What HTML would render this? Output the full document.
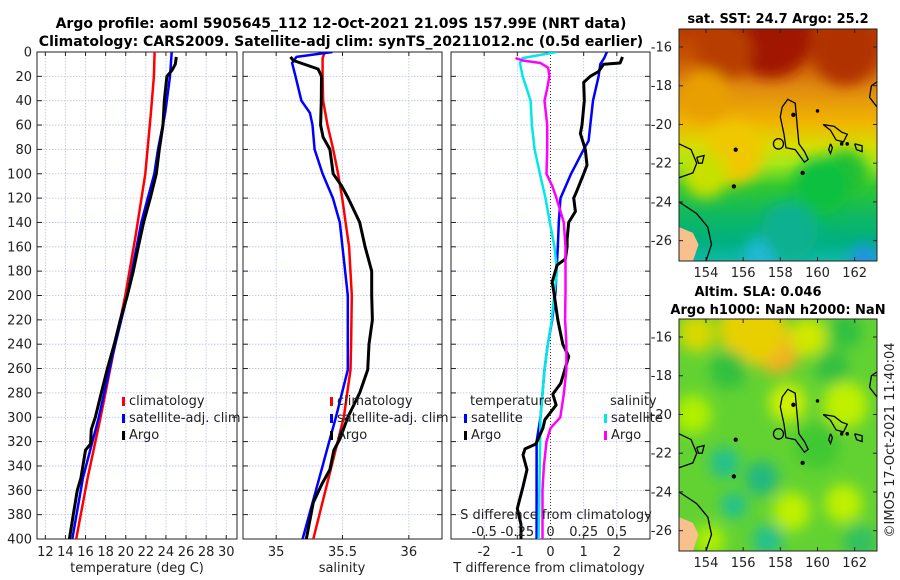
<!DOCTYPE html>
<html><head><meta charset="utf-8"><style>
html,body{margin:0;padding:0;background:#fff;}
svg{display:block;font-family:"DejaVu Sans","Liberation Sans",sans-serif;}
</style></head><body>
<svg id="fig" width="900" height="580" viewBox="0 0 900 580" xmlns="http://www.w3.org/2000/svg">
<defs>
<clipPath id="cp1"><rect x="37" y="52" width="200" height="487"/></clipPath>
<clipPath id="cp2"><rect x="243" y="52" width="199" height="487"/></clipPath>
<clipPath id="cp3"><rect x="451" y="52" width="199" height="487"/></clipPath>
<clipPath id="cmTop"><rect x="679" y="29" width="198" height="232"/></clipPath>
<clipPath id="cmBot"><rect x="679" y="319" width="198" height="232"/></clipPath>
<filter id="blur" x="-50%" y="-50%" width="200%" height="200%"><feGaussianBlur stdDeviation="7"/></filter>
<linearGradient id="sstGrad" x1="0" y1="0" x2="0" y2="1">
<stop offset="0" stop-color="#b83a00"/><stop offset="0.12" stop-color="#c85400"/>
<stop offset="0.25" stop-color="#e08a10"/><stop offset="0.40" stop-color="#f0b400"/>
<stop offset="0.50" stop-color="#d8dc00"/><stop offset="0.58" stop-color="#a8e818"/>
<stop offset="0.68" stop-color="#30c830"/><stop offset="0.80" stop-color="#10b860"/>
<stop offset="0.92" stop-color="#00b080"/><stop offset="1" stop-color="#10b8a8"/>
</linearGradient>
</defs>
<g font-weight="bold" font-size="14" text-anchor="middle" fill="#000">
<text x="341" y="28">Argo profile: aoml 5905645_112 12-Oct-2021 21.09S 157.99E (NRT data)</text>
<text x="341" y="46">Climatology: CARS2009. Satellite-adj clim: synTS_20211012.nc (0.5d earlier)</text>
</g>
<g id="charts"></g>
<g id="maps"></g>
<text transform="translate(894,440) rotate(-90)" text-anchor="middle" font-size="13" fill="#222">©IMOS 17-Oct-2021 11:40:04</text>
</svg>
<script>
// ---------- data ----------
const depthTicks = [0,20,40,60,80,100,120,140,160,180,200,220,240,260,280,300,320,340,360,380,400];
const tempTicks = [12,14,16,18,20,22,24,26,28,30];
const salTicks = [35,35.5,36];
const salTickLabels = ["35","35.5","36"];
const tdTicks = [-2,-1,0,1,2];
const sdTicks = [-0.5,-0.25,0,0.25,0.5];
const sdTickLabels = ["-0.5","-0.25","0","0.25","0.5"];

const tempClimD = [0,20,50,100,150,200,250,300,350,400];
const tempClim = [22.87,22.8,22.5,21.95,21.0,19.96,18.7,17.5,16.2,15.07];
const tempSatD = [0,20,50,80,100,140,200,250,300,350,400];
const tempSat = [24.57,24.4,23.93,23.21,22.84,21.55,20.15,18.66,17.32,15.74,14.68];
const tempArgoD = [4,10,15,20,40,60,80,100,120,140,160,180,200,220,240,260,280,300,310,322,327,350,360,380,400];
const tempArgo = [25.03,24.93,24.6,24.1,23.84,23.71,23.34,23.04,22.44,21.78,21.25,20.75,20.15,19.46,18.86,18.17,17.57,16.97,16.57,16.5,16.0,15.54,15.18,14.78,14.39];

const salClimD = [0,5,20,40,60,80,100,120,140,160,200,240,261,300,320,340,360,400];
const salClim = [35.367,35.35,35.35,35.354,35.387,35.43,35.467,35.498,35.523,35.55,35.57,35.565,35.56,35.51,35.464,35.418,35.372,35.28];
const salSatD = [0,4,9,20,40,50,60,80,100,120,140,200,261,300,320,340,400];
const salSat = [35.425,35.153,35.12,35.146,35.19,35.254,35.274,35.29,35.35,35.428,35.48,35.54,35.54,35.45,35.40,35.35,35.199];
const salArgoD = [4,7,14,20,40,60,70,80,100,110,120,140,160,180,200,220,240,261,280,300,318,327,343,355,370,400];
const salArgo = [35.108,35.13,35.316,35.342,35.34,35.335,35.354,35.405,35.43,35.493,35.543,35.63,35.67,35.72,35.72,35.725,35.70,35.69,35.63,35.54,35.48,35.435,35.405,35.344,35.28,35.227];

const tdArgoD = [4,9,10,16,20,25,40,60,67,80,93,100,115,120,131,140,154,160,170,175,189,197,220,240,250,261,272,281,290,302,309,322,326,331,343,357,375,388,400];
const tdArgo = [2.17,2.1,1.6,1.45,1.2,1.0,1.02,0.95,0.9,1.05,1.1,1.0,0.78,0.7,0.75,0.55,0.5,0.5,0.45,0.2,0.05,0.1,0.22,0.37,0.55,0.43,0.31,0.07,0.17,-0.17,-0.23,-0.44,-0.77,-0.83,-0.71,-0.83,-1.0,-0.89,-0.89];
const tdSatD = [0,5,10,20,40,60,73,80,100,120,140,160,197,220,240,261,300,320,400];
const tdSat = [1.7,1.62,1.5,1.45,1.28,1.2,1.15,1.0,0.62,0.3,0.25,0.22,0.15,0.05,-0.08,-0.18,-0.3,-0.42,-0.42];
const sdSatD = [0,5,9,20,33,40,60,80,100,120,140,160,180,197,220,240,261,300,400];
const sdSat = [0.045,-0.21,-0.23,-0.21,-0.17,-0.15,-0.14,-0.12,-0.08,-0.038,-0.005,0.03,0.05,0.03,0.01,-0.02,-0.045,-0.075,-0.09];
const sdArgoD = [5,7,9,13,20,30,40,60,80,100,110,120,140,160,180,197,220,240,261,281,300,309,320,340,360,400];
const sdArgo = [-0.264,-0.21,-0.075,-0.017,-0.008,-0.025,-0.045,-0.025,-0.025,-0.03,0.013,0.045,0.1,0.113,0.113,0.113,0.11,0.12,0.12,0.10,0.074,0.0,-0.03,-0.05,-0.06,-0.06];

const lonTicks = [154,156,158,160,162];
const latTicks = [-16,-18,-20,-22,-24,-26];

// ---------- scales ----------
const Y0 = 52, Y1 = 539;
const yD = d => Y0 + d * (Y1 - Y0) / 400;
const P1 = {x0:37, x1:237, min:11.17, max:31.07};
const P2 = {x0:243, x1:442, min:34.75, max:36.25};
const P3 = {x0:451, x1:650, min:-3, max:3};
const lin = (p) => v => p.x0 + (v - p.min) * (p.x1 - p.x0) / (p.max - p.min);
const xT = lin(P1), xS = lin(P2), xTd = lin(P3);
const xSd = v => xTd(v * 4);

const NS = "http://www.w3.org/2000/svg";
function mk(tag, attrs, parent) {
  const e = document.createElementNS(NS, tag);
  for (const k in attrs) e.setAttribute(k, attrs[k]);
  parent.appendChild(e);
  return e;
}
const charts = document.getElementById('charts');

function panel(p, clipId, name, vticks) {
  const g = mk('g', {}, charts);
  
  
  const grid = mk('g', {stroke:'#b8c0e4', 'stroke-width':0.8, 'stroke-dasharray':'1.5,1.5'}, g);
  
  
  depthTicks.forEach(d => mk('line', {x1:p.x0, x2:p.x1, y1:yD(d), y2:yD(d)}, grid));
  vticks.forEach(x => mk('line', {x1:x, x2:x, y1:Y0, y2:Y1}, grid));
  const axes = mk('g', {stroke:'#222', 'stroke-width':1}, g);
  
  
  mk('rect', {x:p.x0, y:Y0, width:p.x1 - p.x0, height:Y1 - Y0, fill:'none'}, axes);
  depthTicks.forEach(d => {
    mk('line', {x1:p.x0, x2:p.x0 + 5, y1:yD(d), y2:yD(d)}, axes);
    mk('line', {x1:p.x1 - 5, x2:p.x1, y1:yD(d), y2:yD(d)}, axes);
  });
  vticks.forEach(x => {
    mk('line', {x1:x, x2:x, y1:Y1, y2:Y1 - 4}, axes);
    mk('line', {x1:x, x2:x, y1:Y0, y2:Y0 + 4}, axes);
  });
  const lines = mk('g', {'clip-path':'url(#' + clipId + ')', fill:'none', 'stroke-linejoin':'round'}, g);
  return {g, lines};
}
function series(parent, xs, ds, xf, color, w, name) {
  const pts = ds.map((d, i) => xf(xs[i]).toFixed(1) + ',' + yD(d).toFixed(1)).join(' ');
  const pl = mk('polyline', {points:pts, stroke:color, 'stroke-width':w}, parent);
  
  
}
function txt(parent, x, y, s, attrs, name) {
  const t = mk('text', Object.assign({x, y, 'font-size':12.5, fill:'#222'}, attrs || {}), parent);
  t.textContent = s;
  
  
  return t;
}
function legendEntry(parent, x, y, color, label, name) {
  const g = mk('g', {}, parent);
  
  
  mk('rect', {x:x, y:y - 8, width:3, height:9, fill:color}, g);
  txt(g, x + 7, y, label, {'font-size':13}, name + '-label');
}

// Panel 1: temperature
const p1 = panel(P1, 'cp1', 'temperature-panel', tempTicks.map(xT));
series(p1.lines, tempClim, tempClimD, xT, '#ff0000', 2.5, 'temp-climatology-line');
series(p1.lines, tempSat, tempSatD, xT, '#0000ff', 2.5, 'temp-satellite-line');
series(p1.lines, tempArgo, tempArgoD, xT, '#000', 3, 'temp-argo-line');
depthTicks.forEach(d => txt(charts, 32, yD(d) + 4.5, String(d), {'text-anchor':'end', 'font-size':13}, 'depth-tick-label'));
tempTicks.forEach(t => txt(charts, xT(t), 556, String(t), {'text-anchor':'middle', 'font-size':13}, 'temp-tick-label'));
txt(charts, 137, 572, 'temperature (deg C)', {'text-anchor':'middle', 'font-size':13}, 'temp-axis-title');
legendEntry(p1.g, 122, 405, '#ff0000', 'climatology', 'temp-legend-climatology');
legendEntry(p1.g, 122, 422, '#0000ff', 'satellite-adj. clim', 'temp-legend-satellite');
legendEntry(p1.g, 122, 439, '#000', 'Argo', 'temp-legend-argo');

// Panel 2: salinity
const p2 = panel(P2, 'cp2', 'salinity-panel', salTicks.map(xS));
series(p2.lines, salClim, salClimD, xS, '#ff0000', 2.5, 'sal-climatology-line');
series(p2.lines, salSat, salSatD, xS, '#0000ff', 2.5, 'sal-satellite-line');
series(p2.lines, salArgo, salArgoD, xS, '#000', 3, 'sal-argo-line');
salTicks.forEach((s, i) => txt(charts, xS(s), 556, salTickLabels[i], {'text-anchor':'middle', 'font-size':13}, 'sal-tick-label'));
txt(charts, 342, 572, 'salinity', {'text-anchor':'middle', 'font-size':13}, 'sal-axis-title');
legendEntry(p2.g, 330, 405, '#ff0000', 'climatology', 'sal-legend-climatology');
legendEntry(p2.g, 330, 422, '#0000ff', 'satellite-adj. clim', 'sal-legend-satellite');
legendEntry(p2.g, 330, 439, '#000', 'Argo', 'sal-legend-argo');

// Panel 3: differences
const p3 = panel(P3, 'cp3', 'difference-panel', tdTicks.filter(v => v !== 0).map(xTd));
mk('line', {x1:xTd(0), x2:xTd(0), y1:Y0, y2:Y1, stroke:'#333', 'stroke-width':1, 'stroke-dasharray':'1,2'}, p3.lines);
series(p3.lines, tdSat, tdSatD, xTd, '#0000ff', 2.5, 'tdiff-satellite-line');
series(p3.lines, sdSat, sdSatD, xSd, '#00e8e8', 2.5, 'sdiff-satellite-line');
series(p3.lines, tdArgo, tdArgoD, xTd, '#000', 3, 'tdiff-argo-line');
series(p3.lines, sdArgo, sdArgoD, xSd, '#ff00ff', 2.5, 'sdiff-argo-line');
tdTicks.forEach(v => txt(charts, xTd(v), 556, String(v), {'text-anchor':'middle', 'font-size':13}, 'tdiff-tick-label'));
txt(charts, 549, 572, 'T difference from climatology', {'text-anchor':'middle', 'font-size':13}, 'tdiff-axis-title');
sdTicks.forEach((v, i) => txt(p3.g, xSd(v), 536, sdTickLabels[i], {'text-anchor':'middle', 'font-size':13}, 'sdiff-tick-label'));
txt(p3.g, 556, 519, 'S difference from climatology', {'text-anchor':'middle', 'font-size':13}, 'sdiff-axis-title');
txt(p3.g, 470, 405, 'temperature', {'font-size':13}, 'legend-temperature-heading');
txt(p3.g, 610, 405, 'salinity', {'font-size':13}, 'legend-salinity-heading');
legendEntry(p3.g, 464, 422, '#0000ff', 'satellite', 'tdiff-legend-satellite');
legendEntry(p3.g, 464, 439, '#000', 'Argo', 'tdiff-legend-argo');
legendEntry(p3.g, 604, 422, '#00e8e8', 'satellite', 'sdiff-legend-satellite');
legendEntry(p3.g, 604, 439, '#ff00ff', 'Argo', 'sdiff-legend-argo');

// ---------- maps ----------
const maps = document.getElementById('maps');
const LON0 = 152.55, LON1 = 163.2, LAT0 = -15.07, LAT1 = -27.05;
const coastLines = [
  [[152.55,-21.0],[153.2,-21.3],[153.5,-22.0],[153.3,-22.5],[152.55,-22.75]],
  [[152.55,-24.0],[153.5,-24.6],[154.1,-25.3],[154.3,-26.2],[154.0,-27.05]],
  [[158.1,-19.1],[158.4,-18.7],[158.8,-18.9],[158.9,-20.0],[159.0,-21.0],[159.3,-21.4],[159.5,-21.8],[159.3,-21.95],[158.8,-21.3],[158.3,-21.2],[158.2,-20.5],[158.0,-19.6],[158.1,-19.1]],
  [[160.3,-20.0],[160.9,-20.1],[161.3,-20.4],[161.6,-20.5],[161.4,-20.9],[161.0,-20.8],[160.7,-20.3],[160.3,-20.0]],
  [[162.0,-21.0],[162.4,-21.1],[162.4,-21.4],[162.1,-21.3],[162.0,-21.0]],
  [[163.2,-17.8],[162.9,-18.0],[162.8,-18.6],[163.2,-19.1]],
  [[153.5,-21.7],[153.9,-21.6],[153.8,-22.0],[153.6,-22.0],[153.5,-21.7]],
  [[160.7,-21.0],[160.8,-21.2],[160.7,-21.5],[160.6,-21.3],[160.7,-21.0]]
];
const coastDots = [[157.9,-21.0,0.27],[155.6,-21.3,0.08],[155.5,-23.2,0.08],[159.2,-22.5,0.08],[161.3,-21.0,0.06],[161.6,-21.0,0.06],[160.0,-19.3,0.06],[158.7,-19.5,0.08]];
const sstBlobs = [[157.5,-15.4,2.2,'#a01800'],[155,-16.2,1.5,'#b83c00'],[161.5,-16.2,1.8,'#b03000'],[154,-18.5,1.3,'#e8a000'],[155.5,-21.5,1.6,'#f0c800'],[154,-22.6,1.2,'#c8e000'],[161.5,-22.5,1.2,'#20c030'],[160.2,-23.2,1.5,'#10c040'],[157,-26.7,0.9,'#20b8d8'],[162.5,-26.9,0.7,'#2090e8'],[158.5,-25.5,1.5,'#10b090']];
const slaBlobs = [[157.8,-16.6,1.3,'#f0b020'],[156.5,-15.6,1.8,'#e8d000'],[153.5,-15.8,1.0,'#d8d800'],[159.5,-16,1.0,'#d0e800'],[155.2,-17.7,1.0,'#30c040'],[160.8,-17.6,0.9,'#30c040'],[161.5,-15.7,0.9,'#30c040'],[158.4,-19.4,1.0,'#d0f000'],[161.5,-19.5,1.2,'#c0f000'],[153.3,-20,1.0,'#b0f000'],[155,-22.5,0.8,'#20c090'],[155.5,-24.7,0.7,'#20c090'],[157,-23.3,0.9,'#20b880'],[157.3,-26.5,0.8,'#20c090'],[162.3,-26.6,0.9,'#30c060'],[158.6,-25.0,1.0,'#c0f000'],[161.4,-24.6,1.0,'#c0f000'],[154.2,-26.5,0.8,'#b0f000'],[160,-21.6,1.2,'#40c830']];

function map(y0, y1, clipId, name, titleLines, blobs, base) {
  const g = mk('g', {}, maps);
  
  
  const x0 = 679, x1 = 877;
  const mx = lon => x0 + (lon - LON0) * (x1 - x0) / (LON1 - LON0);
  const my = lat => y0 + (lat - LAT0) * (y1 - y0) / (LAT1 - LAT0);
  const field = mk('g', {'clip-path':'url(#' + clipId + ')'}, g);
  
  
  mk('rect', {x:x0, y:y0, width:x1 - x0, height:y1 - y0, fill:base}, field);
  const bg = mk('g', {filter:'url(#blur)'}, field);
  blobs.forEach(b => mk('ellipse', {cx:mx(b[0]), cy:my(b[1]), rx:b[2] * 18.6, ry:b[2] * 19.3, fill:b[3]}, bg));
  const land = mk('path', {d:`M${x0},${my(-25.3)} L${mx(153.3)},${my(-25.6)} L${mx(153.6)},${my(-26.2)} L${mx(153.3)},${my(-27.05)} L${x0},${y1} Z`, fill:'#f8c08c'}, field);
  
  
  const coast = mk('g', {fill:'none', stroke:'#000', 'stroke-width':1.3}, field);
  
  
  coastLines.forEach(c => mk('polyline', {points:c.map(p => mx(p[0]).toFixed(1) + ',' + my(p[1]).toFixed(1)).join(' ')}, coast));
  coastDots.forEach(c => mk('ellipse', {cx:mx(c[0]), cy:my(c[1]), rx:c[2] * 18.6, ry:c[2] * 19.3, fill:c[2] < 0.1 ? '#000' : 'none'}, coast));
  mk('rect', {x:x0, y:y0, width:x1 - x0, height:y1 - y0, fill:'none', stroke:'#222', 'stroke-width':1}, g);
  lonTicks.forEach(l => {
    mk('line', {x1:mx(l), x2:mx(l), y1:y1, y2:y1 - 4, stroke:'#222'}, g);
    mk('line', {x1:mx(l), x2:mx(l), y1:y0, y2:y0 + 4, stroke:'#222'}, g);
    txt(g, mx(l), y1 + 16, String(l), {'text-anchor':'middle', 'font-size':13}, 'lon-tick-label');
  });
  latTicks.forEach(l => {
    mk('line', {x1:x0, x2:x0 + 4, y1:my(l), y2:my(l), stroke:'#222'}, g);
    mk('line', {x1:x1 - 4, x2:x1, y1:my(l), y2:my(l), stroke:'#222'}, g);
    txt(g, 672, my(l) + 4.5, String(l), {'text-anchor':'end', 'font-size':13}, 'lat-tick-label');
  });
  titleLines.forEach((t, i) => txt(g, t[1], t[2], t[0], {'text-anchor':'middle', 'font-size':13, 'font-weight':'bold', fill:'#000'}, name + '-title'));
}
map(29, 261, 'cmTop', 'sst-map', [['sat. SST: 24.7 Argo: 25.2', 778, 23]], sstBlobs, 'url(#sstGrad)');
map(319, 551, 'cmBot', 'sla-map', [['Altim. SLA: 0.046', 758, 296], ['Argo h1000: NaN h2000: NaN', 778, 314]], slaBlobs, '#62d232');
</script>
</body></html>
